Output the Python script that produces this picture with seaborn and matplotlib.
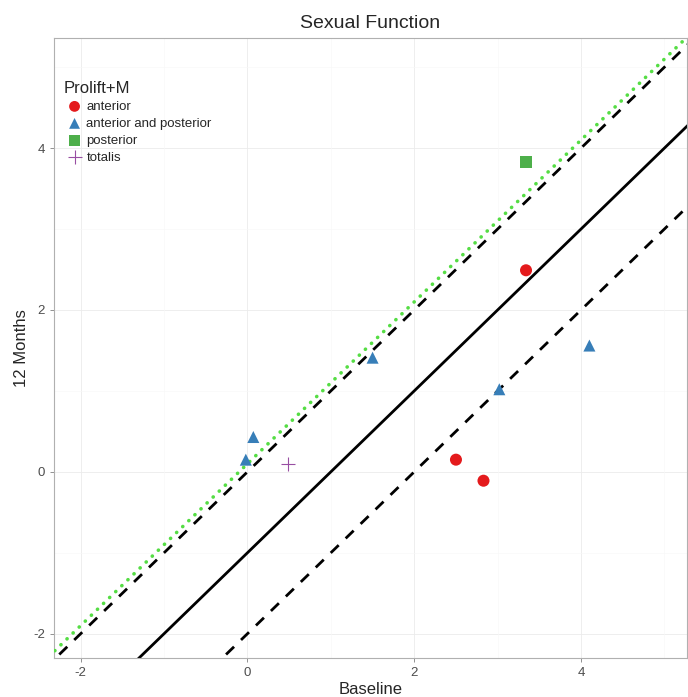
import numpy as np
import pandas as pd
import matplotlib
matplotlib.use("Agg")
import matplotlib.pyplot as plt
import seaborn as sns

# Valores
groups = ["anterior", "anterior", "anterior",
          "anterior and posterior", "anterior and posterior", "anterior and posterior",
          "anterior and posterior", "anterior and posterior",
          "posterior", "totalis"]
baseline = [3.34, 2.50, 2.83, 1.50, 0.07, -0.02, 3.02, 4.10, 3.34, 0.49]
months12 = [2.49, 0.15, -0.11, 1.41, 0.43, 0.15, 1.02, 1.56, 3.83, 0.10]

order = ["anterior", "anterior and posterior", "posterior", "totalis"]
colors = {"anterior": "#E41A1C", "anterior and posterior": "#377EB8",
          "posterior": "#4DAF4A", "totalis": "#984EA3"}
markers = {"anterior": "o", "anterior and posterior": "^",
           "posterior": "s", "totalis": "+"}

# lineas de referencia: (intercepto, estilo)
line_intercepts = [0.0, -1.0, -2.0]
line_styles = [(0, (4, 3.5)), "-", (0, (4, 3.5))]
fit_intercept = 0.1

df = pd.DataFrame({"Baseline": baseline, "12 Months": months12, "Prolift+M": groups})

sns.set_style("white")
plt.rcParams["font.family"] = ["Liberation Sans", "DejaVu Sans"]
plt.rcParams["axes.unicode_minus"] = False

fig = plt.figure(figsize=(6.88, 6.97), dpi=100)
ax = fig.add_axes([0.0785, 0.056, 0.92, 0.8895])

xlim = (-2.32, 5.27)
ylim = (-2.30, 5.36)
ax.set_xlim(xlim)
ax.set_ylim(ylim)

# grid estilo theme_bw
for v in [-2, 0, 2, 4]:
    ax.axvline(v, color="#EBEBEB", lw=0.6, zorder=0)
    ax.axhline(v, color="#EBEBEB", lw=0.6, zorder=0)
for v in [-1, 1, 3, 5]:
    ax.axvline(v, color="#F7F7F7", lw=0.4, zorder=0)
    ax.axhline(v, color="#F7F7F7", lw=0.4, zorder=0)

xs = np.array([-3, 6])
for b, ls in zip(line_intercepts, line_styles):
    ax.plot(xs, xs + b, color="black", lw=2.0, ls=ls, zorder=2)
ax.plot(xs, xs + fit_intercept, color="#55DD44", lw=2.6, ls=(0, (0.05, 2.3)),
        dash_capstyle="round", zorder=3)

for g in order:
    sub = df[df["Prolift+M"] == g]
    kw = dict(s=75, edgecolor="none")
    if g == "totalis":
        kw = dict(s=110, linewidth=0.8)
    sns.scatterplot(data=sub, x="Baseline", y="12 Months", color=colors[g],
                    marker=markers[g], label=g, ax=ax, zorder=4, **kw)

ax.set_xticks([-2, 0, 2, 4])
ax.set_yticks([-2, 0, 2, 4])
ax.tick_params(axis="both", which="both", length=3, width=0.6, color="#808080",
               labelcolor="#4D4D4D", labelsize=9.5, bottom=True, left=True)
for sp in ax.spines.values():
    sp.set_color("#B0B0B0")
    sp.set_linewidth(0.8)

ax.set_xlabel("Baseline", fontsize=12, labelpad=2)
ax.set_ylabel("12 Months", fontsize=12, labelpad=3)
ax.set_title("Sexual Function", fontsize=14, pad=7)

leg = ax.legend(title="Prolift+M", loc="upper left", frameon=False,
                bbox_to_anchor=(-0.003, 0.950),
                fontsize=9.5, title_fontsize=12, handletextpad=0.1,
                handlelength=1.6, labelspacing=0.36, markerscale=0.9)
leg._legend_box.align = "left"

fig.savefig("out.png", dpi=100)
